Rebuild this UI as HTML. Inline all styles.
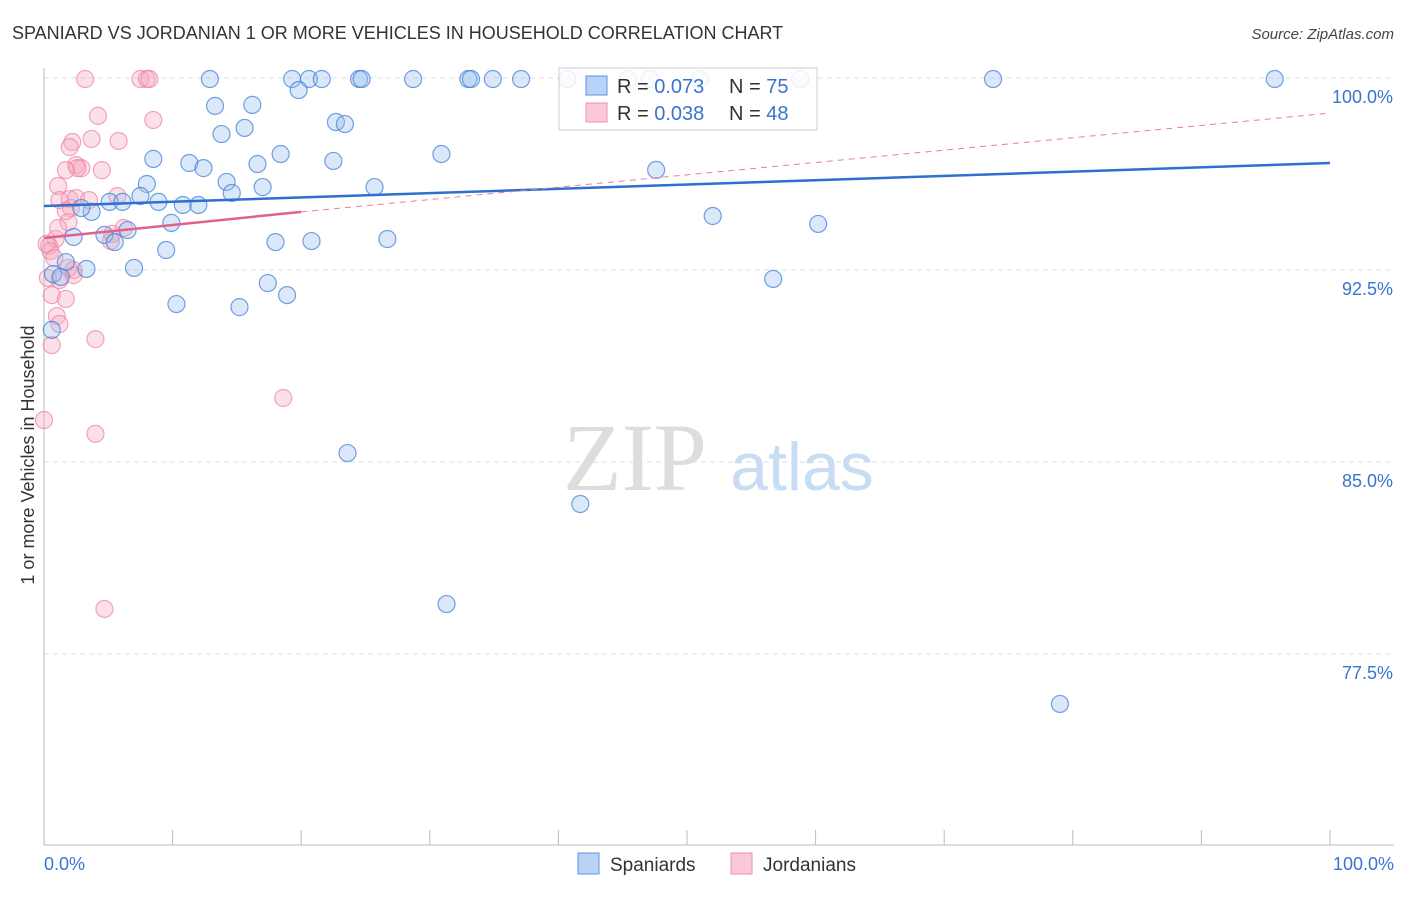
<!DOCTYPE html>
<html><head><meta charset="utf-8"><style>
body{margin:0;background:#fff;font-family:"Liberation Sans",sans-serif}
</style></head><body>
<svg id="chart" width="1406" height="892" xmlns="http://www.w3.org/2000/svg" font-family="Liberation Sans, sans-serif">
<text x="12" y="39" font-size="18" fill="#333">SPANIARD VS JORDANIAN 1 OR MORE VEHICLES IN HOUSEHOLD CORRELATION CHART</text>
<text x="1394" y="39" font-size="15" fill="#444" font-style="italic" text-anchor="end">Source: ZipAtlas.com</text>
<text transform="translate(34,455) rotate(-90)" font-size="18" fill="#333" text-anchor="middle">1 or more Vehicles in Household</text>
<g>
<text x="635" y="490" font-size="96" font-family="Liberation Serif, serif" fill="#ddd" text-anchor="middle">ZIP</text>
<text x="802" y="490" font-size="68" fill="#c8dcf3" text-anchor="middle">atlas</text>
</g>
<g id="grid"></g>
<g id="axes"></g>
<g id="pts"></g>
<g id="trend"></g>
<g>
<rect x="559" y="68" width="258" height="62" fill="rgba(255,255,255,0.85)" stroke="#ccc"/>
<rect x="586" y="76" width="21" height="19" fill="#b8d3f5" stroke="#5b93e0"/>
<rect x="586" y="103" width="21" height="19" fill="#fbc8d8" stroke="#ec8fab"/>
<text x="617" y="93" font-size="20" fill="#333">R = <tspan fill="#3a74d1">0.073</tspan></text>
<text x="729" y="93" font-size="20" fill="#333">N = <tspan fill="#3a74d1">75</tspan></text>
<text x="617" y="120" font-size="20" fill="#333">R = <tspan fill="#3a74d1">0.038</tspan></text>
<text x="729" y="120" font-size="20" fill="#333">N = <tspan fill="#3a74d1">48</tspan></text>
</g>
<g>
<rect x="578" y="853" width="21" height="21" fill="#b8d3f5" stroke="#5b93e0"/>
<text x="610" y="871" font-size="19" fill="#333">Spaniards</text>
<rect x="731" y="853" width="21" height="21" fill="#fbc8d8" stroke="#ec8fab"/>
<text x="763" y="871" font-size="19" fill="#333">Jordanians</text>
</g>
</svg>
<script>
const yTicks=[100,92.5,85,77.5];
const xTickLabels=["0.0%","100.0%"];
const blueX=[12.9,19.3,20.6,21.6,24.5,24.7,28.7,33.0,33.2,34.9,37.1,40.7,45.4,47.1,51.0,58.8,73.8,95.7,19.8,13.3,16.2,13.8,15.6,22.7,23.4,8.5,11.3,12.4,16.6,18.4,22.5,30.9,47.6,8.0,14.2,14.6,17.0,25.7,7.5,5.1,6.1,8.9,10.8,12.0,3.7,2.9,9.9,52.0,60.2,2.3,4.7,5.5,6.5,9.5,18.0,20.8,26.7,1.7,3.3,7.0,0.7,1.3,56.7,17.4,18.9,10.3,15.2,0.6,23.6,41.7,31.3,79.0];
const blueY=[99.96,99.96,99.96,99.96,99.96,99.96,99.96,99.96,99.96,99.96,99.96,99.96,99.96,99.96,99.96,99.96,99.96,99.96,99.53,98.91,98.95,97.81,98.05,98.28,98.20,96.84,96.68,96.48,96.64,97.03,96.76,97.03,96.41,95.86,95.94,95.51,95.74,95.74,95.39,95.16,95.16,95.16,95.04,95.04,94.77,94.92,94.34,94.61,94.30,93.79,93.87,93.59,94.06,93.28,93.59,93.63,93.71,92.81,92.54,92.58,92.34,92.23,92.15,91.99,91.52,91.17,91.05,90.16,85.35,83.36,79.45,75.55];
const pinkX=[3.2,7.5,8.0,8.2,4.2,8.5,2.2,3.7,5.8,2.0,2.5,2.9,2.6,1.7,4.5,1.1,5.7,1.2,2.0,2.5,3.5,2.1,1.9,6.2,5.2,0.9,0.4,0.5,0.8,1.9,2.3,2.3,1.2,0.3,0.6,1.7,1.0,1.2,4.0,0.6,0.0,4.0,18.6,4.7,5.3,1.1,1.7,0.2];
const pinkY=[99.96,99.96,99.96,99.96,98.52,98.36,97.5,97.62,97.54,97.3,96.6,96.48,96.48,96.4,96.4,95.78,95.39,95.23,95.27,95.31,95.23,94.92,94.37,94.14,93.63,93.71,93.44,93.24,92.97,92.58,92.3,92.5,92.11,92.19,91.52,91.37,90.7,90.39,89.8,89.57,86.64,86.1,87.5,79.26,93.91,94.14,94.8,93.52];
const W0=44,W1=1330,Y100=78,PX=25.6;
const sx=v=>W0+(W1-W0)*v/100, sy=v=>Y100+(100-v)*PX;
const NS="http://www.w3.org/2000/svg";
function mk(p,t,a){const e=document.createElementNS(NS,t);for(const k in a)e.setAttribute(k,a[k]);p.appendChild(e);return e;}
const grid=document.getElementById('grid'),axes=document.getElementById('axes'),pts=document.getElementById('pts'),tr=document.getElementById('trend');
yTicks.forEach(v=>{
 const l=mk(grid,'line',{x1:44,x2:1394,y1:sy(v),y2:sy(v),stroke:'#ddd','stroke-dasharray':'5,4'});
 
 
 const t=mk(axes,'text',{x:1393,y:sy(v)+25,'font-size':18,fill:'#3a74d1','text-anchor':'end'});t.textContent=v.toFixed(1)+'%';
 
 
});
const ax=mk(axes,'line',{x1:44,x2:44,y1:68,y2:845,stroke:'#bbb'});


const bx=mk(axes,'line',{x1:44,x2:1394,y1:845,y2:845,stroke:'#bbb'});


for(let i=0;i<=10;i++){const t=mk(axes,'line',{x1:sx(i*10),x2:sx(i*10),y1:830,y2:845,stroke:'#bbb'});
 
 }
[[0,'start',44],[1,'end',1394]].forEach(([i,a,x])=>{const t=mk(axes,'text',{x:x,y:870,'font-size':18,fill:'#3a74d1','text-anchor':a});t.textContent=xTickLabels[i];
 
 });
pinkX.forEach((x,i)=>{const c=mk(pts,'circle',{cx:sx(x),cy:sy(pinkY[i]),r:8.5,fill:'rgba(246,165,190,0.35)',stroke:'rgba(236,130,162,0.7)','stroke-width':1.2});
 
 });
blueX.forEach((x,i)=>{const c=mk(pts,'circle',{cx:sx(x),cy:sy(blueY[i]),r:8.5,fill:'rgba(150,190,238,0.35)',stroke:'rgba(70,130,215,0.75)','stroke-width':1.2});
 
 });
const bl=mk(tr,'line',{x1:sx(0),y1:sy(95.0),x2:sx(100),y2:sy(96.68),stroke:'#2f6fd0','stroke-width':2.5});


const pd=mk(tr,'line',{x1:sx(20),y1:sy(94.77),x2:sx(100),y2:sy(98.63),stroke:'#e87c9c','stroke-width':1,'stroke-dasharray':'6,5'});


const pl=mk(tr,'line',{x1:sx(0),y1:sy(93.75),x2:sx(20),y2:sy(94.77),stroke:'#e0628a','stroke-width':2.5});


</script>
</body></html>
